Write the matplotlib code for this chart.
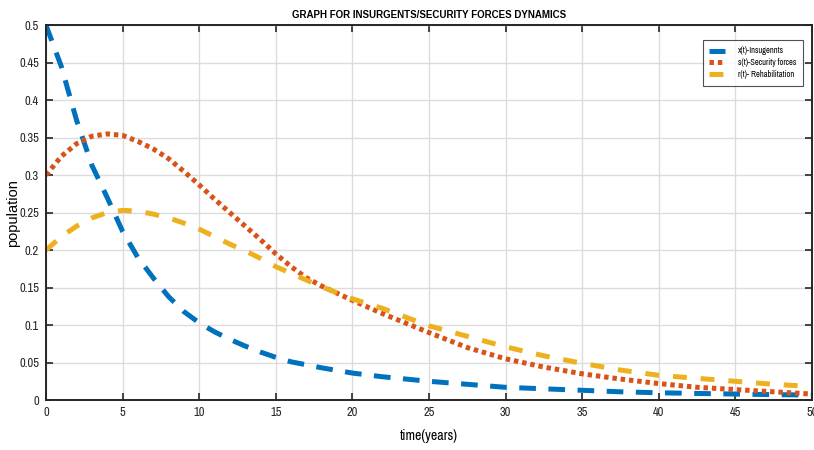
import matplotlib
matplotlib.use("Agg")
import matplotlib.pyplot as plt
from matplotlib import font_manager

# tempo (anos) e populações
tempo = [0, 1, 2, 3, 4, 5, 6, 7, 8, 9, 10, 11, 12, 13, 14, 15, 16, 17, 18,
         20, 22, 25, 27.5, 30, 32.5, 35, 37.5, 40, 42.5, 45, 47.5, 50]
insurgentes = [0.5, 0.445, 0.373, 0.313, 0.27, 0.225, 0.19, 0.163, 0.138, 0.118,
               0.103, 0.091, 0.081, 0.072, 0.064, 0.057, 0.051, 0.047, 0.043,
               0.036, 0.031, 0.025, 0.021, 0.017, 0.015, 0.013, 0.011, 0.0097,
               0.0088, 0.008, 0.0072, 0.0067]
seguranca = [0.3, 0.325, 0.342, 0.352, 0.355, 0.353, 0.345, 0.335, 0.322, 0.305,
             0.287, 0.268, 0.25, 0.232, 0.214, 0.195, 0.178, 0.163, 0.152,
             0.133, 0.115, 0.09, 0.07, 0.055, 0.044, 0.035, 0.028, 0.022,
             0.017, 0.014, 0.011, 0.008]
reabilitacao = [0.2, 0.218, 0.232, 0.243, 0.25, 0.253, 0.252, 0.248, 0.243, 0.236,
                0.228, 0.218, 0.208, 0.199, 0.189, 0.178, 0.169, 0.16, 0.151,
                0.135, 0.122, 0.099, 0.085, 0.071, 0.059, 0.049, 0.04, 0.033,
                0.029, 0.025, 0.021, 0.018]
rotulos_y = ["0", "0.05", "0.1", "0.15", "0.2", "0.25", "0.3", "0.35", "0.4", "0.45", "0.5"]

instaladas = font_manager.fontManager.ttflist
nomes = set(f.name for f in instaladas)
estreitas = [n for n in ("Liberation Sans Narrow", "Arial Narrow", "Archivo Narrow",
                         "Roboto Condensed", "Asap Condensed", "Liberation Sans")
             if n in nomes]
fonte = estreitas[0] if estreitas else "DejaVu Sans"
tem_negrito = any(f.name == fonte and f.weight in (600, 700, 800, "bold") for f in instaladas)
plt.rcParams["font.family"] = [fonte, "DejaVu Sans"]
plt.rcParams["lines.scale_dashes"] = False

fig = plt.figure(figsize=(8.14, 4.5), dpi=100)
ax = fig.add_axes([0.0565, 0.111, 0.941, 0.833])

ax.plot(tempo, insurgentes, color="#0072BD", linewidth=3.6,
        dashes=(12, 9), dash_capstyle="butt", label="x(t)-Insugennts")
ax.plot(tempo, seguranca, color="#D95319", linewidth=3.6,
        dashes=(3.2, 2.8), dash_capstyle="butt", label="s(t)-Security forces")
ax.plot(tempo, reabilitacao, color="#EDB120", linewidth=3.6,
        dashes=(10, 10), dash_capstyle="butt", label="r(t)- Rehabilitation")

ax.set_xlim(0, 50)
ax.set_ylim(0, 0.5)
ax.set_xticks(range(0, 51, 5))
ax.set_yticks([i * 0.05 for i in range(11)])
ax.set_yticklabels(rotulos_y)
ax.grid(True, color="#dcdcdc", linewidth=1.0)
ax.set_axisbelow(True)
ax.tick_params(direction="in", top=True, right=True, length=5, width=1.2,
               labelsize=9, colors="#262626", pad=5)
for lado in ax.spines.values():
    lado.set_linewidth(1.4)
    lado.set_color("#262626")

if tem_negrito:
    ax.set_title("GRAPH FOR INSURGENTS/SECURITY FORCES DYNAMICS", fontsize=8.5,
                 fontweight="bold", pad=5)
else:
    ax.set_title("GRAPH FOR INSURGENTS/SECURITY FORCES DYNAMICS", fontsize=7,
                 fontweight="bold", pad=5, family=["Liberation Sans", "DejaVu Sans"])
ax.set_xlabel("time(years)", fontsize=10, labelpad=8)
ax.set_ylabel("population", fontsize=10.5,
              family=["Liberation Sans", "DejaVu Sans"])
ax.yaxis.set_label_coords(-0.034, 0.5)

leg = ax.legend(loc="upper right", bbox_to_anchor=(0.988, 0.96), borderaxespad=0,
                fontsize=6, frameon=True, fancybox=False, edgecolor="#262626",
                handlelength=1.9, handletextpad=1.6, borderpad=0.75,
                labelspacing=0.35)
leg.get_frame().set_linewidth(0.8)

fig.savefig("out.png", dpi=100)
